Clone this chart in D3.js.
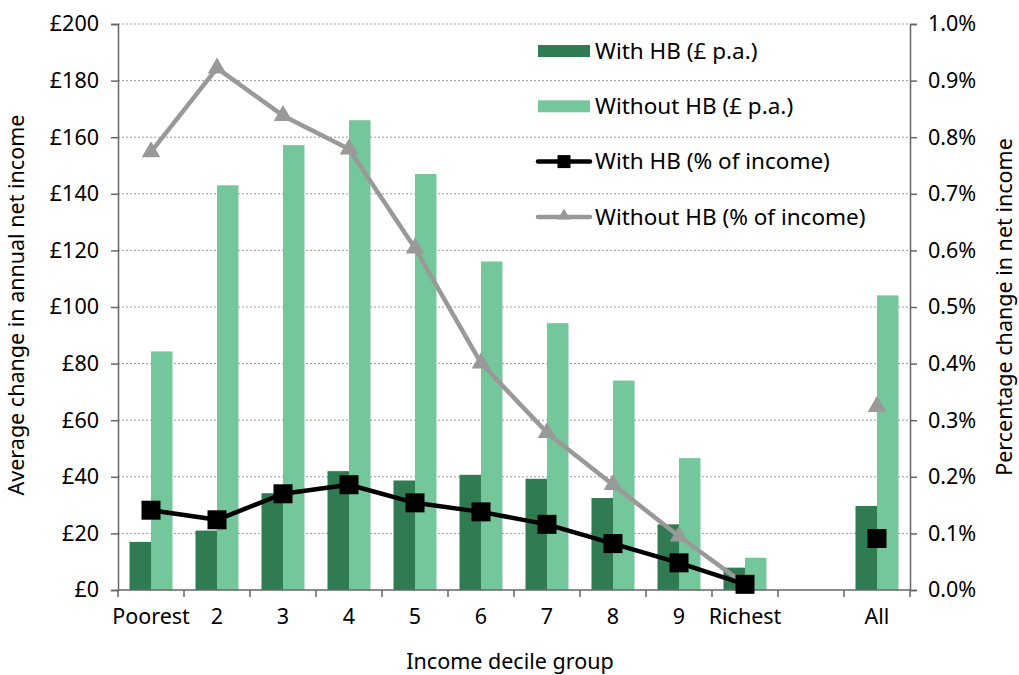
<!DOCTYPE html>
<html>
<head>
<meta charset="utf-8">
<script src="https://cdn.jsdelivr.net/npm/d3@7"></script>
<style>
  body { margin: 0; background: #fff; }
  text { font-family: "Noto Sans", sans-serif; fill: #000; }
</style>
</head>
<body>
<script>
const categories = ["Poorest", "2", "3", "4", "5", "6", "7", "8", "9", "Richest", "", "All"];
const withHB = [17, 21, 34.2, 42, 38.7, 40.7, 39.3, 32.5, 23.2, 7.9, null, 29.7];
const withoutHB = [84.3, 143, 157.2, 166, 147, 116.1, 94.3, 74, 46.6, 11.4, null, 104.1];
const withHBPct = [0.141, 0.124, 0.170, 0.186, 0.154, 0.138, 0.116, 0.082, 0.048, 0.010, null, 0.091];
const withoutHBPct = [0.774, 0.922, 0.838, 0.779, 0.604, 0.401, 0.278, 0.186, 0.095, 0.010, null, 0.324];
const poundTicks = [0, 20, 40, 60, 80, 100, 120, 140, 160, 180, 200];
const pctTicks = [0, 0.1, 0.2, 0.3, 0.4, 0.5, 0.6, 0.7, 0.8, 0.9, 1.0];

const dark = "#317b53", light = "#74c79a", grey = "#999999";

const margin = { top: 24, right: 109, bottom: 85, left: 118 },
      width = 1019 - margin.left - margin.right,
      height = 675 - margin.top - margin.bottom;

const svg = d3.select("body").append("svg")
  .attr("width", 1019).attr("height", 675)
  .append("g")
  .attr("transform", `translate(${margin.left},${margin.top})`);

const x0 = d3.scaleBand().domain(categories.map((c, i) => i)).range([0, width]).padding(0);
const x1 = d3.scaleBand().domain(["with", "without"])
  .range([x0.bandwidth() / 2 - 21.5, x0.bandwidth() / 2 + 21.5]).padding(0);
const yL = d3.scaleLinear().domain([0, 200]).range([height, 0]);
const yR = d3.scaleLinear().domain([0, 1]).range([height, 0]);

// gridlines
svg.append("g")
  .selectAll("line")
  .data(poundTicks.slice(1))
  .enter().append("line")
  .attr("x1", 0).attr("x2", width)
  .attr("y1", d => yL(d)).attr("y2", d => yL(d))
  .attr("stroke", "#999").attr("stroke-width", 1)
  .attr("stroke-dasharray", "2,2");

// bars
const rows = categories.map((c, i) => ({ i, w: withHB[i], wo: withoutHB[i] })).filter(d => d.w !== null);
const groups = svg.append("g").selectAll("g").data(rows).enter().append("g")
  .attr("transform", d => `translate(${x0(d.i)},0)`);
groups.append("rect")
  .attr("x", x1("with")).attr("width", x1.bandwidth())
  .attr("y", d => yL(d.w)).attr("height", d => height - yL(d.w))
  .attr("fill", dark);
groups.append("rect")
  .attr("x", x1("without")).attr("width", x1.bandwidth())
  .attr("y", d => yL(d.wo)).attr("height", d => height - yL(d.wo))
  .attr("fill", light);

// axes
const leftAxis = svg.append("g")
  .call(d3.axisLeft(yL).tickValues(poundTicks).tickFormat(d => "£" + d).tickSize(7).tickPadding(12));
const rightAxis = svg.append("g")
  .attr("transform", `translate(${width},0)`)
  .call(d3.axisRight(yR).tickValues(pctTicks).tickFormat(d => d.toFixed(1) + "%").tickSize(7).tickPadding(11));
const bottomAxis = svg.append("g")
  .attr("transform", `translate(0,${height})`)
  .call(d3.axisBottom(x0).tickFormat(i => categories[i]).tickSize(0).tickPadding(19));

// bottom ticks at band boundaries
svg.append("g").selectAll("line")
  .data(d3.range(categories.length + 1))
  .enter().append("line")
  .attr("x1", d => d * x0.bandwidth()).attr("x2", d => d * x0.bandwidth())
  .attr("y1", height).attr("y2", height + 7)
  .attr("stroke", "#666").attr("stroke-width", 1.5);

[leftAxis, rightAxis, bottomAxis].forEach(a => {
  a.selectAll(".domain").attr("stroke", "#666").attr("stroke-width", 1.5);
  a.selectAll(".tick line").attr("stroke", "#666").attr("stroke-width", 1.5);
  a.selectAll("text").style("font-size", "21.5px").attr("fill", "#000")
    .style("font-family", "'Noto Sans', sans-serif");
});
bottomAxis.select(".domain").attr("d", `M0,0H${width}`);

// lines
const cx = i => x0(i) + x0.bandwidth() / 2;
const line = d3.line().x(d => cx(d.i)).y(d => yR(d.v));
const seg = arr => arr.map((v, i) => ({ i, v })).slice(0, 10);

svg.append("path").datum(seg(withoutHBPct))
  .attr("d", line).attr("fill", "none").attr("stroke", grey).attr("stroke-width", 4.5)
  .attr("stroke-linejoin", "round");
const triSym = d3.symbol().type(d3.symbolTriangle).size(150);
svg.append("g").selectAll("path")
  .data(withoutHBPct.map((v, i) => ({ i, v })).filter(d => d.v !== null))
  .enter().append("path")
  .attr("d", triSym)
  .attr("transform", d => `translate(${cx(d.i)},${yR(d.v)})`)
  .attr("fill", grey);

svg.append("path").datum(seg(withHBPct))
  .attr("d", line).attr("fill", "none").attr("stroke", "#000").attr("stroke-width", 4.5)
  .attr("stroke-linejoin", "round");
svg.append("g").selectAll("rect")
  .data(withHBPct.map((v, i) => ({ i, v })).filter(d => d.v !== null))
  .enter().append("rect")
  .attr("x", d => cx(d.i) - 9.5).attr("y", d => yR(d.v) - 9.5)
  .attr("width", 19).attr("height", 19)
  .attr("fill", "#000");

// legend
const legendItems = [
  { label: "With HB (£ p.a.)", type: "bar", color: dark },
  { label: "Without HB (£ p.a.)", type: "bar", color: light },
  { label: "With HB (% of income)", type: "square", color: "#000" },
  { label: "Without HB (% of income)", type: "tri", color: grey }
];
const legend = svg.append("g").attr("transform", `translate(${538 - margin.left},${51 - margin.top})`);
const li = legend.selectAll("g").data(legendItems).enter().append("g")
  .attr("transform", (d, i) => `translate(0,${i * 55.3})`);
li.filter(d => d.type === "bar").append("rect")
  .attr("x", 0).attr("y", -6).attr("width", 52).attr("height", 12)
  .attr("fill", d => d.color);
li.filter(d => d.type !== "bar").append("line")
  .attr("x1", 0).attr("x2", 52).attr("y1", 0).attr("y2", 0)
  .attr("stroke", d => d.color).attr("stroke-width", 4.5).attr("stroke-linecap", "round");
li.filter(d => d.type === "square").append("rect")
  .attr("x", 19.5).attr("y", -6.5).attr("width", 13).attr("height", 13).attr("fill", "#000");
li.filter(d => d.type === "tri").append("path")
  .attr("d", d3.symbol().type(d3.symbolTriangle).size(70))
  .attr("transform", "translate(26,-1)").attr("fill", grey);
li.append("text")
  .attr("x", 57).attr("y", 0).attr("dy", "0.35em")
  .style("font-size", "22.5px")
  .text(d => d.label);

// axis titles
svg.append("text")
  .attr("transform", `translate(${-94},${height / 2 - 2}) rotate(-90)`)
  .attr("text-anchor", "middle")
  .style("font-size", "21.5px")
  .text("Average change in annual net income");
svg.append("text")
  .attr("transform", `translate(${width + 102},${height / 2}) rotate(-90)`)
  .attr("text-anchor", "middle")
  .style("font-size", "21.5px")
  .text("Percentage change in net income");
svg.append("text")
  .attr("x", width / 2 - 4).attr("y", height + 79)
  .attr("text-anchor", "middle")
  .style("font-size", "21.5px")
  .text("Income decile group");
</script>
</body>
</html>
